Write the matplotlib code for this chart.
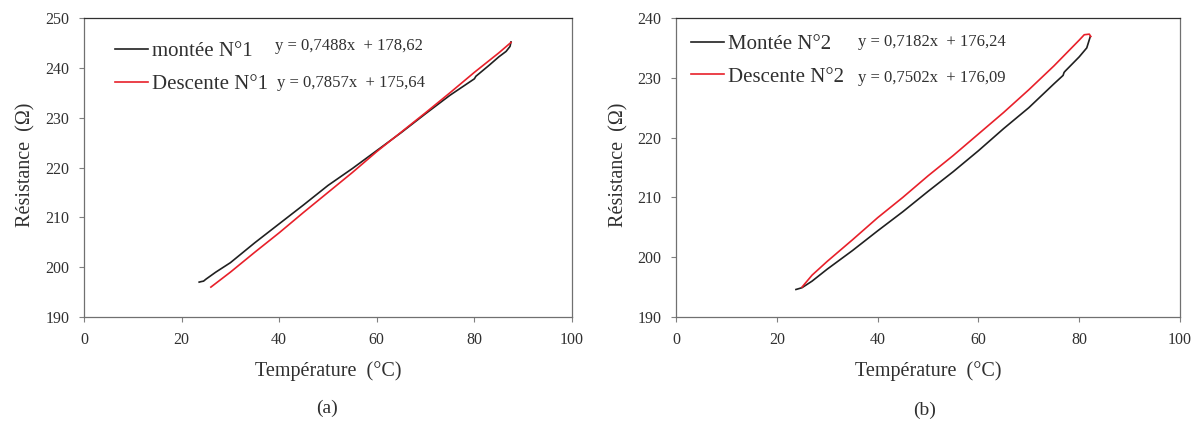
import matplotlib
matplotlib.use("Agg")
import matplotlib.pyplot as plt

# ---- data ----
a_up_x = [23.6, 24.0, 24.5, 25.0, 27, 30, 35, 40, 45, 50, 55, 60, 65, 70, 75, 80, 80.3, 83, 85, 86.5, 87.3, 87.5]
a_up_y = [197.0, 197.1, 197.2, 197.6, 199.0, 200.9, 204.9, 208.7, 212.5, 216.4, 219.8, 223.4, 227.0, 230.8, 234.5, 237.8, 238.3, 240.5, 242.2, 243.3, 244.3, 245.2]
a_dn_x = [26, 30, 35, 40, 45, 50, 55, 60, 65, 70, 75, 80, 85, 87.5]
a_dn_y = [196.0, 199.0, 203.0, 206.9, 211.0, 215.0, 219.0, 223.2, 227.1, 231.0, 235.0, 239.1, 243.0, 245.1]

b_up_x = [23.8, 24.2, 25, 27, 30, 35, 40, 45, 50, 55, 60, 65, 70, 75, 76.8, 77, 77.2, 80, 81.5, 82.2]
b_up_y = [194.6, 194.7, 194.9, 196.0, 198.0, 201.1, 204.4, 207.6, 211.0, 214.3, 217.8, 221.5, 225.0, 229.0, 230.4, 230.9, 231.1, 233.5, 235.0, 236.9]
b_dn_x = [82.3, 82.0, 81.0, 80, 75, 70, 65, 60, 55, 50, 45, 40, 35, 30, 27, 25.0]
b_dn_y = [236.9, 237.3, 237.2, 236.3, 232.0, 228.0, 224.2, 220.6, 217.0, 213.6, 210.0, 206.6, 202.9, 199.3, 197.0, 195.0]

a_labels = ["montée N°1", "Descente N°1"]
a_eqs = ["y = 0,7488x  + 178,62", "y = 0,7857x  + 175,64"]
b_labels = ["Montée N°2", "Descente N°2"]
b_eqs = ["y = 0,7182x  + 176,24", "y = 0,7502x  + 176,09"]

xticks = [0, 20, 40, 60, 80, 100]
a_yticks = [190, 200, 210, 220, 230, 240, 250]
b_yticks = [190, 200, 210, 220, 230, 240]

plt.rcParams['font.family'] = ['Liberation Serif', 'DejaVu Serif']
TXT = '#303030'
BLK = '#202020'
RED = '#e8202a'

fig = plt.figure(figsize=(11.98, 4.28), dpi=100)
W, H = 1198, 428
def ax_at(l, r, t, b):
    return fig.add_axes([l / W, 1 - b / H, (r - l) / W, (b - t) / H])

axa = ax_at(84, 572, 18, 317)
axb = ax_at(676, 1180, 18, 317)

def style(ax, yticks, ylim, ylx):
    ax.set_xlim(0, 100)
    ax.set_ylim(*ylim)
    ax.set_xticks(xticks)
    ax.set_yticks(yticks)
    ax.tick_params(direction='out', length=3.6, width=0.8, colors='#808080',
                   labelcolor=TXT, labelsize=11.5, pad=7)
    for s in ax.spines.values():
        s.set_color('#707070')
        s.set_linewidth(0.9)
    ax.spines['top'].set_color('#303030')
    ax.set_xlabel("Température  (°C)", fontsize=14.5, color=TXT)
    ax.set_ylabel("Résistance  (Ω)", fontsize=14.5, color=TXT)
    ax.xaxis.set_label_coords(0.5, -0.147)
    ax.yaxis.set_label_coords(ylx, 0.51)

style(axa, a_yticks, (190, 250), -0.099)
style(axb, b_yticks, (190, 240), -0.095)

la1, = axa.plot(a_up_x, a_up_y, color=BLK, lw=1.2)
la2, = axa.plot(a_dn_x, a_dn_y, color=RED, lw=1.2)
lb1, = axb.plot(b_up_x, b_up_y, color=BLK, lw=1.2)
lb2, = axb.plot(b_dn_x, b_dn_y, color=RED, lw=1.2)

def legend(ax, handles, labels, bbox):
    lg = ax.legend(handles, labels, loc='upper left', bbox_to_anchor=bbox,
                   frameon=False, fontsize=15, handlelength=1.55, handletextpad=0.2,
                   labelspacing=0.62, borderaxespad=0)
    for t in lg.get_texts():
        t.set_color(TXT)
    return lg

legend(axa, [la1, la2], a_labels, (0.047, 0.948))
legend(axb, [lb1, lb2], b_labels, (0.014, 0.972))

# equations: left at px x 275/277, y 45/82 ; right at x 858, y 41/77
for (xp, yp), e in zip([(275, 46), (277, 83)], a_eqs):
    axa.text((xp - 84) / 488, (317 - yp) / 299, e, transform=axa.transAxes, fontsize=12,
             color=TXT, va='center', ha='left')
for (xp, yp), e in zip([(858, 42), (858, 78)], b_eqs):
    axb.text((xp - 676) / 504, (317 - yp) / 299, e, transform=axb.transAxes, fontsize=12,
             color=TXT, va='center', ha='left')

fig.text(327 / W, 1 - 408 / H, "(a)", fontsize=14, color=TXT, ha='center', va='center')
fig.text(925 / W, 1 - 410 / H, "(b)", fontsize=14, color=TXT, ha='center', va='center')

fig.savefig("out.png", dpi=100)
